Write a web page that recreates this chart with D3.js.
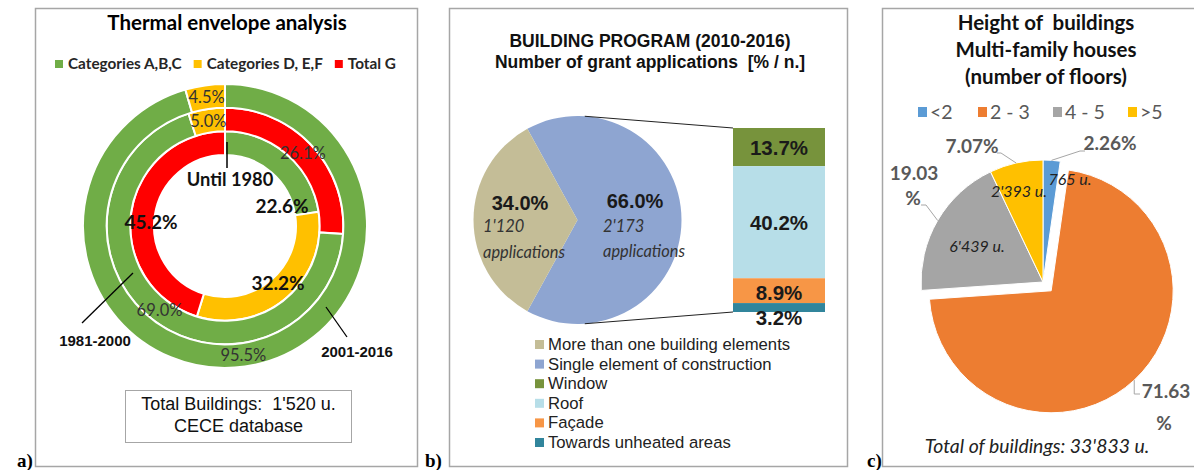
<!DOCTYPE html>
<html>
<head>
<meta charset="utf-8">
<script src="https://cdn.jsdelivr.net/npm/d3@7"></script>
<style>
  body { margin: 0; background: #fff; }
</style>
</head>
<body>
<div id="chart"></div>
<script>
// ---- panel a : thermal envelope (three rings) ----
var envCats = ["Categories A,B,C", "Categories D, E,F", "Total G"];
var envColors = ["#70ad47", "#ffc000", "#ff0000"];
var ringPeriods = ["Until 1980", "1981-2000", "2001-2016"];
var ringCatIdx = [[0, 1, 2], [2, 0, 1], [0, 1]];
var ringValues = [[22.6, 32.2, 45.2], [26.1, 69.0, 5.0], [95.5, 4.5]];
var totalBuildings = "1'520 u.";

// ---- panel b : building program ----
var grantCats = ["Single element of construction", "More than one building elements"];
var grantValues = [66.0, 34.0];
var grantCounts = ["2'173", "1'120"];
var grantColors = ["#8ea5d1", "#c4bd97"];
var splitCats = ["Window", "Roof", "Façade", "Towards unheated areas"];
var splitValues = [13.7, 40.2, 8.9, 3.2];
var splitColors = ["#77933c", "#b7dee8", "#f79646", "#31859c"];
var legendB = ["More than one building elements", "Single element of construction", "Window", "Roof", "Façade", "Towards unheated areas"];
var legendBColors = ["#c4bd97", "#8ea5d1", "#77933c", "#b7dee8", "#f79646", "#31859c"];

// ---- panel c : height of buildings ----
var floorCats = ["<2", "2 - 3", "4 - 5", ">5"];
var floorPct = [2.26, 71.63, 19.03, 7.07];
var floorUnits = ["765 u.", "", "6'439 u.", "2'393 u."];
var floorColors = ["#5b9bd5", "#ed7d31", "#a5a5a5", "#ffc000"];
var floorTotal = "33'833 u.";

var W = 1194, H = 470;
var CAL = "Lato, 'Open Sans', sans-serif";
var ARL = "'Liberation Sans', Arial, sans-serif";
var TNR = "'Liberation Serif', 'Times New Roman', serif";
var NB = "\u00a0";

var svg = d3.select("#chart").append("svg")
    .attr("width", W)
    .attr("height", H);

function label(g, x, y, txt, size, opt) {
  opt = opt || {};
  return g.append("text")
      .attr("x", x)
      .attr("y", y)
      .attr("text-anchor", opt.anchor || "middle")
      .style("font-family", opt.font || CAL)
      .style("font-size", size + "px")
      .style("font-weight", opt.bold ? "bold" : "normal")
      .style("font-style", opt.italic ? "italic" : "normal")
      .attr("fill", opt.color || "#000")
      .text(txt);
}

// frames + letters
[[35.5, 382], [449.5, 398], [882.5, 330]].forEach(function(p) {
  svg.append("rect")
      .attr("x", p[0]).attr("y", 8.5)
      .attr("width", p[1]).attr("height", 458)
      .attr("fill", "none")
      .attr("stroke", "#a6a6a6")
      .attr("stroke-width", 1.5);
});
label(svg, 17, 467, "a)", 19, {anchor: "start", bold: true, font: TNR});
label(svg, 425, 467, "b)", 19, {anchor: "start", bold: true, font: TNR});
label(svg, 867, 467, "c)", 19, {anchor: "start", bold: true, font: TNR});

// ================= panel a =================
var ga = svg.append("g");
label(ga, 227, 30, "Thermal envelope analysis", 20.5, {bold: true});

var lx = 55;
envCats.forEach(function(c, i) {
  ga.append("rect").attr("x", lx).attr("y", 60).attr("width", 8).attr("height", 8)
      .attr("fill", envColors[i]);
  var t = label(ga, lx + 13, 69, c, 15.3, {anchor: "start", bold: true, color: "#262626"});
  lx += 13 + t.node().getComputedTextLength() + 12;
});

var cxA = 225, cyA = 226;
var ringR = d3.scaleLinear().domain([0, 3]).range([71, 142]);
var donut = ga.append("g").attr("transform", "translate(" + cxA + "," + cyA + ")");
var donutLabels = ga.append("g").attr("transform", "translate(" + cxA + "," + cyA + ")");
var boldOffsets = [[3, 43], [-1, -6], [8, 8]];

ringValues.forEach(function(vals, ri) {
  var arcs = d3.pie().sort(null)(vals);
  var arc = d3.arc().innerRadius(ringR(ri)).outerRadius(ringR(ri + 1));
  donut.selectAll(".ring" + ri)
      .data(arcs)
      .enter().append("path")
      .attr("class", "ring" + ri)
      .attr("d", arc)
      .attr("fill", function(d, i) { return envColors[ringCatIdx[ri][i]]; })
      .attr("stroke", "#fff")
      .attr("stroke-width", 2);
  arcs.forEach(function(d, i) {
    var c = arc.centroid(d);
    var txt = d3.format(".1f")(d.data) + "%";
    if (ri === 0) {
      label(donutLabels, c[0] + boldOffsets[i][0], c[1] + boldOffsets[i][1] + 7, txt, 19, {bold: true, color: "#111"});
    } else {
      label(donutLabels, c[0], c[1] + 6, txt, 16.5, {color: "#333"});
    }
  });
});

// period labels with leaders
ga.append("line").attr("x1", 227).attr("y1", 142).attr("x2", 227).attr("y2", 168)
    .attr("stroke", "#000").attr("stroke-width", 1.5);
label(ga, 230, 186, ringPeriods[0], 18.3, {bold: true, color: "#111"});
ga.append("line").attr("x1", 82).attr("y1", 323).attr("x2", 133).attr("y2", 273)
    .attr("stroke", "#000").attr("stroke-width", 1.3);
label(ga, 95, 346, ringPeriods[1], 15, {bold: true, font: ARL, color: "#111"});
ga.append("line").attr("x1", 326).attr("y1", 307).attr("x2", 347).attr("y2", 337)
    .attr("stroke", "#000").attr("stroke-width", 1.3);
label(ga, 357, 357, ringPeriods[2], 15, {bold: true, font: ARL, color: "#111"});

ga.append("rect").attr("x", 125.5).attr("y", 390.5).attr("width", 226).attr("height", 52)
    .attr("fill", "#fff").attr("stroke", "#a6a6a6").attr("stroke-width", 1);
label(ga, 238.5, 410, "Total Buildings:" + NB + NB + totalBuildings, 18, {font: ARL, color: "#111"});
label(ga, 238.5, 432, "CECE database", 18, {font: ARL, color: "#111"});

// ================= panel b =================
var gb = svg.append("g");
label(gb, 650, 47, "BUILDING PROGRAM (2010-2016)", 17.5, {bold: true, font: ARL, color: "#111"});
label(gb, 650, 68, "Number of grant applications" + NB + NB + "[% / n.]", 17.5, {bold: true, font: ARL, color: "#111"});

var cxB = 577.5, cyB = 220, rB = 104;
var startB = Math.PI / 2 - Math.PI * grantValues[0] / 100;
var pieB = d3.pie().sort(null).startAngle(startB).endAngle(startB + 2 * Math.PI)(grantValues);
var arcB = d3.arc().innerRadius(0).outerRadius(rB);
var pb = gb.append("g").attr("transform", "translate(" + cxB + "," + cyB + ")");
pb.selectAll("path").data(pieB).enter().append("path")
    .attr("d", arcB)
    .attr("fill", function(d, i) { return grantColors[i]; });

// bar of pie
var barX = 733, barW = 92;
var yB = d3.scaleLinear().domain([0, d3.sum(splitValues)]).range([128, 312]);
var cum = 0;
var segs = splitValues.map(function(v) { var s = {y0: cum, y1: cum + v, v: v}; cum += v; return s; });
gb.selectAll(".seg").data(segs).enter().append("rect")
    .attr("class", "seg")
    .attr("x", barX).attr("width", barW)
    .attr("y", function(d) { return yB(d.y0); })
    .attr("height", function(d) { return yB(d.y1) - yB(d.y0); })
    .attr("fill", function(d, i) { return splitColors[i]; });

// series lines
var topPt = d3.pointRadial(0.07, rB), botPt = d3.pointRadial(Math.PI - 0.07, rB);
gb.append("line").attr("x1", cxB + topPt[0]).attr("y1", cyB + topPt[1])
    .attr("x2", barX).attr("y2", yB(0))
    .attr("stroke", "#222").attr("stroke-width", 1);
gb.append("line").attr("x1", cxB + botPt[0]).attr("y1", cyB + botPt[1])
    .attr("x2", barX).attr("y2", yB(d3.sum(splitValues)))
    .attr("stroke", "#222").attr("stroke-width", 1);

// pie labels
label(gb, 635, 208, d3.format(".1f")(grantValues[0]) + "%", 20, {bold: true, font: ARL, color: "#1a1a1a"});
label(gb, 520, 210, d3.format(".1f")(grantValues[1]) + "%", 20, {bold: true, font: ARL, color: "#1a1a1a"});
label(gb, 603, 232, grantCounts[0], 16.4, {anchor: "start", italic: true, color: "#333"});
label(gb, 603, 257, "applications", 16.4, {anchor: "start", italic: true, color: "#333"});
label(gb, 483, 232, grantCounts[1], 16.4, {anchor: "start", italic: true, color: "#333"});
label(gb, 483, 258, "applications", 16.4, {anchor: "start", italic: true, color: "#333"});

// bar labels
var barLabelY = [155, 230, 300, 325];
segs.forEach(function(s, i) {
  label(gb, barX + barW / 2, barLabelY[i], d3.format(".1f")(s.v) + "%", 20.5, {bold: true, font: ARL, color: "#1a1a1a"});
});

// legend b
legendB.forEach(function(c, i) {
  var y = 350 + i * 19.6;
  gb.append("rect").attr("x", 535).attr("y", y - 10).attr("width", 9).attr("height", 9)
      .attr("fill", legendBColors[i]);
  label(gb, 548, y, c, 16.7, {anchor: "start", font: ARL, color: "#222"});
});

// ================= panel c =================
var gc = svg.append("g");
label(gc, 1046, 30, "Height of" + NB + NB + "buildings", 20.5, {bold: true, color: "#111"});
label(gc, 1046, 57, "Multi-family houses", 20.5, {bold: true, color: "#111"});
label(gc, 1046, 84, "(number of floors)", 20.5, {bold: true, color: "#111"});

var legX = [918, 978, 1053, 1128];
floorCats.forEach(function(c, i) {
  gc.append("rect").attr("x", legX[i]).attr("y", 107).attr("width", 9).attr("height", 10)
      .attr("fill", floorColors[i]);
  label(gc, legX[i] + 12, 119, c, 19.5, {anchor: "start", color: "#595959"});
});

var cxC = 1043, cyC = 282, rC = 122, explode = 12;
var pieC = d3.pie().sort(null)(floorPct);
var arcC = d3.arc().innerRadius(0).outerRadius(rC);
var pc = gc.append("g").attr("transform", "translate(" + cxC + "," + cyC + ")");
pc.selectAll("path").data(pieC).enter().append("path")
    .attr("d", arcC)
    .attr("transform", function(d, i) {
      if (i !== 1) return null;
      var off = d3.pointRadial((d.startAngle + d.endAngle) / 2, explode);
      return "translate(" + off[0] + "," + off[1] + ")";
    })
    .attr("fill", function(d, i) { return floorColors[i]; })
    .attr("stroke", "#fff")
    .attr("stroke-width", 1);

function edge(i) {
  var d = pieC[i];
  var m = (d.startAngle + d.endAngle) / 2;
  var p = d3.pointRadial(m, rC);
  if (i === 1) {
    var off = d3.pointRadial(m, explode);
    p = [p[0] + off[0], p[1] + off[1]];
  }
  return [cxC + p[0], cyC + p[1]];
}
function leader(pts) {
  gc.append("path").attr("d", d3.line()(pts))
      .attr("fill", "none").attr("stroke", "#a6a6a6").attr("stroke-width", 1);
}
var pctFmt = d3.format(".2f");
// <2
leader([edge(0), [1080, 151], [1085, 151]]);
label(gc, 1110, 150, pctFmt(floorPct[0]) + "%", 19, {bold: true, color: "#595959"});
// >5
leader([edge(3), [1001, 153], [997, 153]]);
label(gc, 972, 153, pctFmt(floorPct[3]) + "%", 19, {bold: true, color: "#595959"});
// 4 - 5
leader([edge(2), [926, 205], [921, 205]]);
label(gc, 914, 180, pctFmt(floorPct[2]), 19, {bold: true, color: "#595959"});
label(gc, 913, 205, "%", 19, {bold: true, color: "#595959"});
// 2 - 3
var e1 = edge(1);
leader([e1, [e1[0], 394], [1140, 394]]);
label(gc, 1166, 398, pctFmt(floorPct[1]), 19, {bold: true, color: "#595959"});
label(gc, 1164, 430, "%", 19, {bold: true, color: "#595959"});

label(gc, 1070, 185, floorUnits[0], 16, {italic: true, color: "#222"});
label(gc, 1019, 197, floorUnits[3], 16, {italic: true, color: "#222"});
label(gc, 977, 252, floorUnits[2], 16, {italic: true, color: "#222"});

label(gc, 1037, 453, "Total of buildings: " + floorTotal, 19.4, {italic: true, color: "#222"});
</script>
</body>
</html>
